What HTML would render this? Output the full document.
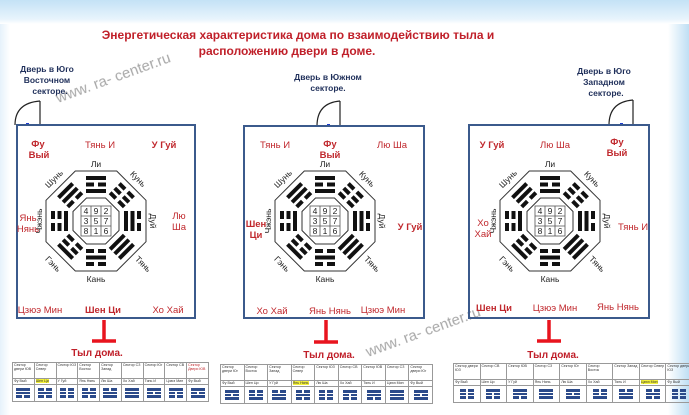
<!DOCTYPE html>
<html><head><meta charset="utf-8"><style>
body{margin:0;width:689px;height:415px;overflow:hidden;position:relative;font-family:"Liberation Sans",sans-serif;background:linear-gradient(90deg,#e6f2fb 0,#ffffff 10px,#ffffff 668px,#bfdff4 689px);}
.topband{position:absolute;left:0;top:0;width:689px;height:24px;background:linear-gradient(180deg,#c4e2f6,#e8f4fc 80%,#ffffff);}
svg{position:absolute;left:0;top:0}
table{position:absolute;border-collapse:collapse;font-size:3.6px;line-height:4.2px;color:#333;table-layout:fixed}
td{border:0.6px solid #999;padding:0 1px;vertical-align:top;overflow:hidden}
tr.h td{height:15px}
tr.n td{height:5px}
tr.i td{height:16px;vertical-align:middle}
.t{width:14px;margin:auto}
.t div{height:2.6px;margin:1.2px 0;background:#2b4a8a}
.t div.b{background:linear-gradient(90deg,#2b4a8a 42%,transparent 42%,transparent 58%,#2b4a8a 58%)}
.y{background:#f4f23a}
.r{color:#c0282d}
</style></head><body>
<div class="topband"></div>
<svg width="689" height="415" viewBox="0 0 689 415">
<defs>
<g id="s"><rect x="-10" y="-46" width="20" height="4"/></g>
<g id="bagua">
<polygon points="-20.7,-50 20.7,-50 50,-20.7 50,20.7 20.7,50 -20.7,50 -50,20.7 -50,-20.7" fill="#fff" stroke="#333" stroke-width="1"/>
<polygon points="-9.5,-23 9.5,-23 23,-9.5 23,9.5 9.5,23 -9.5,23 -23,9.5 -23,-9.5" fill="#fff" stroke="#333" stroke-width="1"/>
<g fill="#111">
<g><rect x="-10" y="-45" width="20" height="4"/><rect x="-10" y="-38.5" width="8" height="4"/><rect x="2" y="-38.5" width="8" height="4"/><rect x="-10" y="-32" width="20" height="4"/></g>
<g transform="rotate(45)"><rect x="-10" y="-45" width="8" height="4"/><rect x="2" y="-45" width="8" height="4"/><rect x="-10" y="-38.5" width="8" height="4"/><rect x="2" y="-38.5" width="8" height="4"/><rect x="-10" y="-32" width="8" height="4"/><rect x="2" y="-32" width="8" height="4"/></g>
<g transform="rotate(90)"><rect x="-10" y="-45" width="8" height="4"/><rect x="2" y="-45" width="8" height="4"/><rect x="-10" y="-38.5" width="20" height="4"/><rect x="-10" y="-32" width="20" height="4"/></g>
<g transform="rotate(135)"><rect x="-10" y="-45" width="20" height="4"/><rect x="-10" y="-38.5" width="20" height="4"/><rect x="-10" y="-32" width="20" height="4"/></g>
<g transform="rotate(180)"><rect x="-10" y="-45" width="8" height="4"/><rect x="2" y="-45" width="8" height="4"/><rect x="-10" y="-38.5" width="20" height="4"/><rect x="-10" y="-32" width="8" height="4"/><rect x="2" y="-32" width="8" height="4"/></g>
<g transform="rotate(225)"><rect x="-10" y="-45" width="20" height="4"/><rect x="-10" y="-38.5" width="8" height="4"/><rect x="2" y="-38.5" width="8" height="4"/><rect x="-10" y="-32" width="8" height="4"/><rect x="2" y="-32" width="8" height="4"/></g>
<g transform="rotate(270)"><rect x="-10" y="-45" width="8" height="4"/><rect x="2" y="-45" width="8" height="4"/><rect x="-10" y="-38.5" width="8" height="4"/><rect x="2" y="-38.5" width="8" height="4"/><rect x="-10" y="-32" width="20" height="4"/></g>
<g transform="rotate(315)"><rect x="-10" y="-45" width="20" height="4"/><rect x="-10" y="-38.5" width="20" height="4"/><rect x="-10" y="-32" width="8" height="4"/><rect x="2" y="-32" width="8" height="4"/></g>
</g>
<rect x="-15" y="-15" width="30" height="30" fill="#fff" stroke="#555" stroke-width="0.8"/>
<path d="M-5,-15V15M5,-15V15M-15,-5H15M-15,5H15" stroke="#555" stroke-width="0.8"/>
</g>
</defs>

<g font-weight="bold" font-size="12" fill="#c0202a">
<text x="298" y="39" text-anchor="middle">Энергетическая характеристика дома по взаимодействию тыла и</text>
<text x="287" y="55" text-anchor="middle">расположению двери в доме.</text>
</g>
<g font-size="15" fill="#8a8a8a" opacity="0.75">
<text x="58" y="103" transform="rotate(-20 58 103)">www. ra- center.ru</text>
<text x="368" y="357" transform="rotate(-20 368 357)">www. ra- center.ru</text>
</g>
<g font-weight="bold" font-size="8.5" fill="#1f2f5a" text-anchor="middle">
<text x="47" y="72">Дверь в  Юго</text><text x="47" y="83">Восточном</text><text x="50" y="94">секторе.</text>
<text x="328" y="80">Дверь в  Южном</text><text x="328" y="91">секторе.</text>
<text x="604" y="74">Дверь в  Юго</text><text x="604" y="85">Западном</text><text x="606" y="96">секторе.</text>
</g>
<g fill="none" stroke="#222" stroke-width="1.2">
<path d="M40,125V101M15,125Q15,103 40,101"/>
<path d="M340,126V101M317,126Q317,103 340,101"/>
<path d="M633,125V100M609,125Q609,102 633,100"/>
</g>
<g fill="#1d3bd0"><rect x="26" y="123" width="3" height="3"/><rect x="327" y="124" width="3" height="3"/><rect x="620" y="123" width="3" height="3"/></g>

<g fill="none" stroke="#3b5a8c" stroke-width="2">
<rect x="17" y="125" width="178" height="193"/>
<rect x="244" y="126" width="180" height="192"/>
<rect x="469" y="125" width="180" height="193"/>
</g>

<use href="#bagua" transform="translate(96,221)"/>
<use href="#bagua" transform="translate(325,221)"/>
<use href="#bagua" transform="translate(550,221)"/>

<g font-size="8.5" fill="#222" text-anchor="middle">
<g transform="translate(96,221)">
<text x="-10" y="-7">4</text><text x="0" y="-7">9</text><text x="10" y="-7">2</text>
<text x="-10" y="3">3</text><text x="0" y="3">5</text><text x="10" y="3">7</text>
<text x="-10" y="13">8</text><text x="0" y="13">1</text><text x="10" y="13">6</text>
<text x="0" y="-54">Ли</text><text x="0" y="61">Кань</text>
<text transform="translate(40,-40) rotate(45)">Кунь</text>
<text transform="translate(54,0) rotate(90)">Дуй</text>
<text transform="translate(45,45) rotate(45)">Тянь</text>
<text transform="translate(-45,45) rotate(45)">Гэнь</text>
<text transform="translate(-54,0) rotate(-90)">Чжэнь</text>
<text transform="translate(-40,-40) rotate(-45)">Шунь</text>
</g>
<g transform="translate(325,221)">
<text x="-10" y="-7">4</text><text x="0" y="-7">9</text><text x="10" y="-7">2</text>
<text x="-10" y="3">3</text><text x="0" y="3">5</text><text x="10" y="3">7</text>
<text x="-10" y="13">8</text><text x="0" y="13">1</text><text x="10" y="13">6</text>
<text x="0" y="-54">Ли</text><text x="0" y="61">Кань</text>
<text transform="translate(40,-40) rotate(45)">Кунь</text>
<text transform="translate(54,0) rotate(90)">Дуй</text>
<text transform="translate(45,45) rotate(45)">Тянь</text>
<text transform="translate(-45,45) rotate(45)">Гэнь</text>
<text transform="translate(-54,0) rotate(-90)">Чжэнь</text>
<text transform="translate(-40,-40) rotate(-45)">Шунь</text>
</g>
<g transform="translate(550,221)">
<text x="-10" y="-7">4</text><text x="0" y="-7">9</text><text x="10" y="-7">2</text>
<text x="-10" y="3">3</text><text x="0" y="3">5</text><text x="10" y="3">7</text>
<text x="-10" y="13">8</text><text x="0" y="13">1</text><text x="10" y="13">6</text>
<text x="0" y="-54">Ли</text><text x="0" y="61">Кань</text>
<text transform="translate(40,-40) rotate(45)">Кунь</text>
<text transform="translate(54,0) rotate(90)">Дуй</text>
<text transform="translate(45,45) rotate(45)">Тянь</text>
<text transform="translate(-45,45) rotate(45)">Гэнь</text>
<text transform="translate(-54,0) rotate(-90)">Чжэнь</text>
<text transform="translate(-40,-40) rotate(-45)">Шунь</text>
</g>
</g>

<g font-size="9.5" fill="#c0282d" text-anchor="middle">
<g transform="translate(17,125)">
<text x="21" y="22" font-weight="bold">Фу</text><text x="22" y="33" font-weight="bold">Вый</text>
<text x="83" y="23">Тянь И</text><text x="147" y="23" font-weight="bold">У Гуй</text>
<text x="11" y="96">Янь</text><text x="11" y="107">Нянь</text>
<text x="162" y="94">Лю</text><text x="162" y="105">Ша</text>
<text x="23" y="188">Цзюэ Мин</text><text x="86" y="188" font-weight="bold">Шен Ци</text><text x="151" y="188">Хо Хай</text>
</g>
<g transform="translate(244,126)">
<text x="31" y="22">Тянь И</text>
<text x="86" y="21" font-weight="bold">Фу</text><text x="86" y="32" font-weight="bold">Вый</text>
<text x="148" y="22">Лю Ша</text>
<text x="12" y="101" font-weight="bold">Шен</text><text x="12" y="112" font-weight="bold">Ци</text>
<text x="166" y="104" font-weight="bold">У Гуй</text>
<text x="28" y="188">Хо Хай</text><text x="86" y="188">Янь Нянь</text><text x="139" y="187">Цзюэ Мин</text>
</g>
<g transform="translate(469,125)">
<text x="23" y="23" font-weight="bold">У Гуй</text>
<text x="86" y="23">Лю Ша</text>
<text x="148" y="20" font-weight="bold">Фу</text><text x="148" y="31" font-weight="bold">Вый</text>
<text x="14" y="101">Хо</text><text x="14" y="112">Хай</text>
<text x="164" y="105">Тянь И</text>
<text x="25" y="186" font-weight="bold">Шен Ци</text><text x="86" y="186">Цзюэ Мин</text><text x="149" y="185">Янь Нянь</text>
</g>
</g>

<g stroke="#e8141e" stroke-width="3.5">
<path d="M104,320V341M92,341H116"/>
<path d="M326,320V342M314,342H338"/>
<path d="M549,320V341M537,341H561"/>
</g>
<g font-weight="bold" font-size="10" fill="#c0202a" text-anchor="middle">
<text x="97" y="356">Тыл дома.</text>
<text x="329" y="358">Тыл дома.</text>
<text x="553" y="358">Тыл дома.</text>
</g>
</svg>

<table style="left:12px;top:362px;width:197px">
<tr class="h"><td>Сектор двери ЮВ</td><td>Сектор Север</td><td>Сектор ЮЗ</td><td>Сектор Восток</td><td>Сектор Запад</td><td>Сектор СЗ</td><td>Сектор Юг</td><td>Сектор СВ</td><td class="r">Сектор Двери ЮВ</td></tr>
<tr class="n"><td>Фу Вый</td><td><span class="y">Шен Ци</span></td><td>У Гуй</td><td>Янь Нянь</td><td>Лю Ша</td><td>Хо Хай</td><td>Тянь И</td><td>Цзюэ Мин</td><td>Фу Вый</td></tr>
<tr class="i"><td><div class="t"><div></div><div></div><div class="b"></div></div></td><td><div class="t"><div class="b"></div><div></div><div class="b"></div></div></td><td><div class="t"><div class="b"></div><div class="b"></div><div class="b"></div></div></td><td><div class="t"><div class="b"></div><div></div><div class="b"></div></div></td><td><div class="t"><div class="b"></div><div></div><div></div></div></td><td><div class="t"><div></div><div></div><div></div></div></td><td><div class="t"><div></div><div class="b"></div><div></div></div></td><td><div class="t"><div></div><div class="b"></div><div class="b"></div></div></td><td><div class="t"><div></div><div class="b"></div><div></div></div></td></tr>
</table>

<table style="left:220px;top:364px;width:213px">
<tr class="h"><td>Сектор двери Юг</td><td>Сектор Восток</td><td>Сектор Запад</td><td>Сектор Север</td><td>Сектор ЮЗ</td><td>Сектор СВ</td><td>Сектор ЮВ</td><td>Сектор СЗ</td><td>Сектор двери Юг</td></tr>
<tr class="n"><td>Фу Вый</td><td>Шен Ци</td><td>У Гуй</td><td><span class="y">Янь Нянь</span></td><td>Лю Ша</td><td>Хо Хай</td><td>Тянь И</td><td>Цзюэ Мин</td><td>Фу Вый</td></tr>
<tr class="i"><td><div class="t"><div></div><div class="b"></div><div></div></div></td><td><div class="t"><div class="b"></div><div class="b"></div><div></div></div></td><td><div class="t"><div class="b"></div><div></div><div></div></div></td><td><div class="t"><div class="b"></div><div></div><div class="b"></div></div></td><td><div class="t"><div class="b"></div><div class="b"></div><div class="b"></div></div></td><td><div class="t"><div></div><div class="b"></div><div class="b"></div></div></td><td><div class="t"><div></div><div></div><div class="b"></div></div></td><td><div class="t"><div></div><div></div><div></div></div></td><td><div class="t"><div></div><div class="b"></div><div></div></div></td></tr>
</table>

<table style="left:453px;top:363px;width:240px">
<tr class="h"><td>Сектор двери ЮЗ</td><td>Сектор СВ</td><td>Сектор ЮВ</td><td>Сектор СЗ</td><td>Сектор Юг</td><td>Сектор Восток</td><td>Сектор Запад</td><td>Сектор Север</td><td>Сектор двери ЮЗ</td></tr>
<tr class="n"><td>Фу Вый</td><td>Шен Ци</td><td>У Гуй</td><td>Янь Нянь</td><td>Лю Ша</td><td>Хо Хай</td><td>Тянь И</td><td><span class="y">Цзюэ Мин</span></td><td>Фу Вый</td></tr>
<tr class="i"><td><div class="t"><div class="b"></div><div class="b"></div><div class="b"></div></div></td><td><div class="t"><div></div><div class="b"></div><div class="b"></div></div></td><td><div class="t"><div></div><div></div><div class="b"></div></div></td><td><div class="t"><div></div><div></div><div></div></div></td><td><div class="t"><div></div><div class="b"></div><div></div></div></td><td><div class="t"><div class="b"></div><div class="b"></div><div></div></div></td><td><div class="t"><div class="b"></div><div></div><div></div></div></td><td><div class="t"><div class="b"></div><div></div><div class="b"></div></div></td><td><div class="t"><div class="b"></div><div class="b"></div><div class="b"></div></div></td></tr>
</table>
</body></html>
